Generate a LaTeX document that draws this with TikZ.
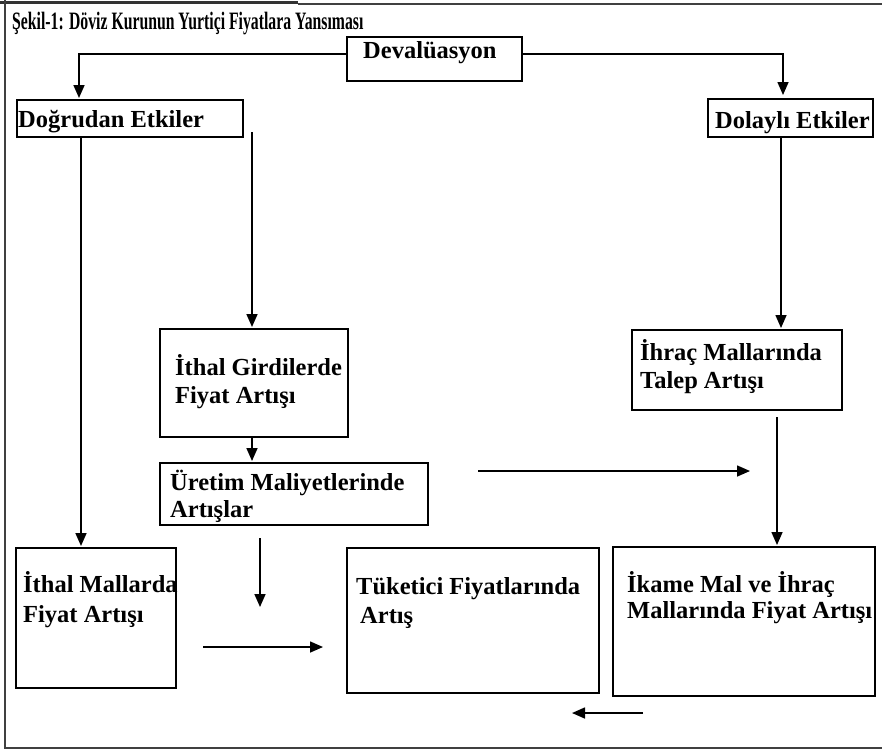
\documentclass[tikz,border=0pt]{standalone}
\usepackage{fontspec}
\setmainfont{Liberation Serif}
\usepackage{graphicx}
\usetikzlibrary{arrows.meta,calc}
\begin{document}
\begin{tikzpicture}[x=1pt,y=-1pt]
\tikzset{
  box/.style={draw, line width=2.8pt, rectangle, inner sep=0pt, outer sep=0pt, anchor=north west},
  lbl/.style={anchor=base west, inner sep=0pt, font=\fontsize{24.5}{28}\selectfont\bfseries},
  arr/.style={line width=1.6pt, -{Triangle[length=13pt,width=11pt]}},
  frame/.style={line width=2pt, black!75},
}
\useasboundingbox (0,0) rectangle (882,753);
% outer frame
\draw[line width=3pt, black!80] (0,2) -- (298,2);
\draw[frame] (298,3.5) -- (882,3.5);
\draw[frame] (5,0) -- (5,748) -- (882,748);
% title
\node[anchor=base west, inner sep=0pt, font=\fontsize{25}{28}\selectfont\bfseries] (title) at (12,29)
  {\scalebox{0.63}[1]{Şekil-1: Döviz Kurunun Yurtiçi Fiyatlara Yansıması}};
% boxes
\node[box, minimum width=175pt, minimum height=44pt] (dev) at (347,37) {};
\node[box, minimum width=226pt, minimum height=37pt] (dogr) at (17,100) {};
\node[box, minimum width=165pt, minimum height=38pt] (dol) at (708,99) {};
\node[box, minimum width=188pt, minimum height=108pt] (ithg) at (160,329) {};
\node[box, minimum width=268pt, minimum height=62pt] (uret) at (160,463) {};
\node[box, minimum width=210pt, minimum height=80pt] (ihrac) at (632,330) {};
\node[box, minimum width=160pt, minimum height=140pt] (ithm) at (16,548) {};
\node[box, minimum width=252pt, minimum height=145pt] (tuk) at (347,548) {};
\node[box, minimum width=262pt, minimum height=149pt] (ikame) at (613,547) {};
% texts
\node[lbl] (tdev) at (363,58) {Devalüasyon};
\node[lbl] (tdogr) at (18,127) {Doğrudan Etkiler};
\node[lbl] (tdol) at (715,128) {Dolaylı Etkiler};
\node[lbl] (tithg1) at (175,375) {İthal Girdilerde};
\node[lbl] (tithg2) at (175,403) {Fiyat Artışı};
\node[lbl] (turet1) at (170,490) {Üretim Maliyetlerinde};
\node[lbl] (turet2) at (170,517) {Artışlar};
\node[lbl] (tihrac1) at (640,360) {İhraç Mallarında};
\node[lbl] (tihrac2) at (640,388) {Talep Artışı};
\node[lbl] (tithm1) at (23,592) {İthal Mallarda};
\node[lbl] (tithm2) at (23,622) {Fiyat Artışı};
\node[lbl] (ttuk1) at (356,594) {Tüketici Fiyatlarında};
\node[lbl] (ttuk2) at (360,623) {Artış};
\node[lbl] (tikame1) at (627,592) {İkame Mal ve İhraç};
\node[lbl] (tikame2) at (627,618) {Mallarında Fiyat Artışı};
% free-end coordinates
\coordinate (a5e) at (260,607);
\coordinate (a6s) at (203,647);
\coordinate (a6e) at (323,647);
\coordinate (a7s) at (478,471);
\coordinate (a7e) at (750,471);
\coordinate (a9s) at (643,713);
\coordinate (a9e) at (572,713);
% connectors
\draw[arr, shorten >=2pt] ([yshift=5pt]dev.west) -| ([xshift=62pt]dogr.north west);
\draw[arr, shorten >=4pt] ([yshift=5pt]dev.east) -| ([xshift=75pt]dol.north west);
\draw[arr, shorten >=2pt] ([xshift=64pt]dogr.south west) -- ([xshift=65pt]ithm.north west);
\draw[arr, shorten >=2pt] ([xshift=9pt,yshift=5pt]dogr.south east) -- ([xshift=92pt]ithg.north west);
\draw[arr, shorten >=2pt] ([xshift=73pt]dol.south west) -- ([xshift=149pt]ihrac.north west);
\draw[arr, shorten >=2pt] ([xshift=92pt]ithg.south west) -- ([xshift=92pt]uret.north west);
\draw[arr] ([xshift=100pt,yshift=-13pt]uret.south west) -- (a5e);
\draw[arr] (a6s) -- (a6e);
\draw[arr] (a7s) -- (a7e);
\draw[arr, shorten >=2pt] ([xshift=145pt,yshift=-7pt]ihrac.south west) -- ([xshift=164pt]ikame.north west);
\draw[arr] (a9s) -- (a9e);
\end{tikzpicture}
\end{document}
